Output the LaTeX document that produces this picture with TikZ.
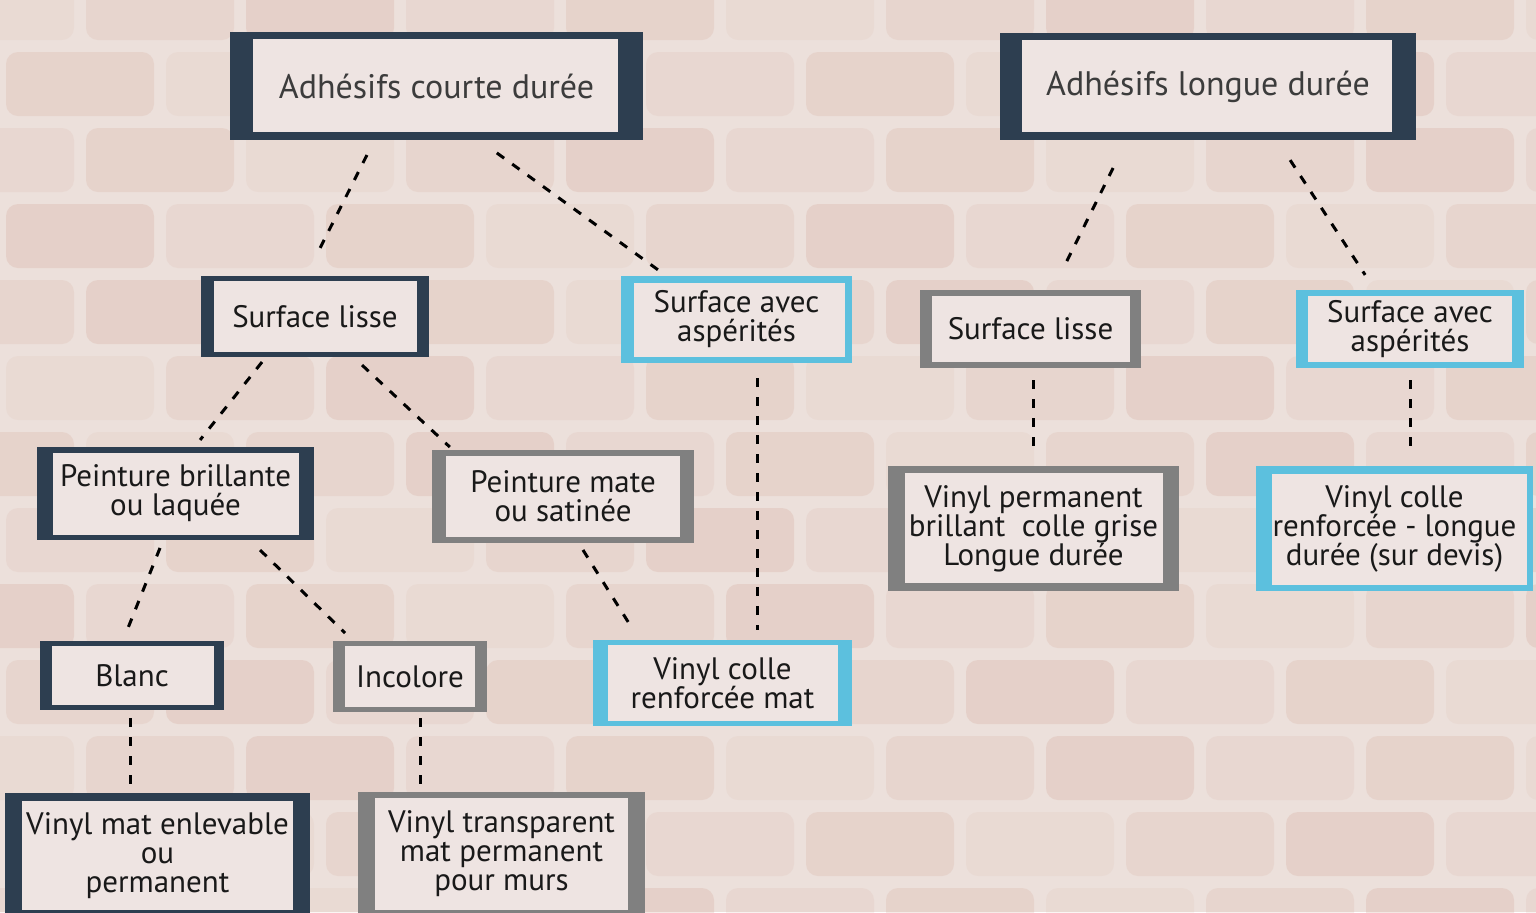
\documentclass[tikz,border=0pt]{standalone}
\usepackage{fontspec}
\setmainfont{PT Sans}
\definecolor{dark}{RGB}{45,62,80}
\definecolor{grayb}{RGB}{128,128,128}
\definecolor{blueb}{RGB}{92,192,222}
\definecolor{innerc}{RGB}{238,228,226}
\definecolor{bgc}{RGB}{236,224,219}
\definecolor{brick}{RGB}{212,166,150}
\definecolor{hdr}{RGB}{60,60,60}
\definecolor{txt}{RGB}{25,25,25}
\newcommand{\bfs}{\fontsize{15.5}{14.5}\selectfont}
\newcommand{\hfs}{\fontsize{17}{16}\selectfont}
\tikzset{
  bx/.style n args={5}{fill=#1, inner sep=0pt, outer sep=0pt, align=center, font=\bfs, text=txt,
    path picture={\fill[innerc] ([xshift=#2,yshift=-#4]path picture bounding box.north west) rectangle ([xshift=-#3,yshift=#5]path picture bounding box.south east);}},
  conn/.style={draw=black, line width=1.5pt, dash pattern=on 4.5pt off 5pt},
}
\begin{document}
\begin{tikzpicture}[x=0.5pt,y=-0.5pt]
\useasboundingbox (0,0) rectangle (1536,912);
\fill[bgc] (0,0) rectangle (1536,912);
% faint brick wall
\foreach \r in {0,...,12}{
  \foreach \c in {0,...,10}{
    \pgfmathsetmacro{\xx}{\c*160+mod(\r,2)*80-80+6}
    \pgfmathsetmacro{\yy}{\r*76-30+6}
    \pgfmathsetmacro{\op}{0.10+0.16*mod(\c*7+\r*3,5)/4}
    \fill[brick, fill opacity=\op, rounded corners=6pt] (\xx,\yy) rectangle ++(148,64);
  }
}
% nodes
\node[bx={dark}{11.5pt}{12.5pt}{3.5pt}{4pt}, minimum width=206.5pt, minimum height=54pt, font=\hfs, text=hdr] (a1) at (436.5,86) {Adhésifs courte durée};
\node[bx={dark}{11pt}{12pt}{3.5pt}{4pt}, minimum width=208pt, minimum height=53.5pt, font=\hfs, text=hdr] (a2) at (1208,86.5) {Adhésifs longue durée};
\node[bx={dark}{6.5pt}{6pt}{2.5pt}{2.5pt}, minimum width=114pt, minimum height=40.5pt] (sl1) at (315,316.5) {Surface lisse};
\node[bx={blueb}{6.5pt}{3.5pt}{3.5pt}{3pt}, minimum width=115.5pt, minimum height=43.5pt] (sa1) at (736.5,319.5) {Surface avec\\aspérités};
\node[bx={grayb}{6pt}{5.5pt}{3pt}{3pt}, minimum width=110.5pt, minimum height=39pt] (sl2) at (1030.5,329) {Surface lisse};
\node[bx={blueb}{6pt}{6pt}{3pt}{3pt}, minimum width=114pt, minimum height=39pt] (sa2) at (1410,329) {Surface avec\\aspérités};
\node[bx={dark}{8pt}{7.5pt}{3pt}{2.5pt}, minimum width=138.5pt, minimum height=46.5pt] (pb) at (175.5,493.5) {Peinture brillante\\ou laquée};
\node[bx={grayb}{7pt}{7pt}{3pt}{3pt}, minimum width=131pt, minimum height=46.5pt] (pm) at (563,496.5) {Peinture mate\\ou satinée};
\node[bx={dark}{6pt}{5pt}{2.5pt}{2.5pt}, minimum width=92pt, minimum height=34.5pt] (bl) at (132,675.5) {Blanc};
\node[bx={grayb}{6pt}{6pt}{2.5pt}{2.5pt}, minimum width=77pt, minimum height=35.5pt] (inc) at (410,676.5) {Incolore};
\node[bx={blueb}{7.5pt}{7pt}{2.5pt}{2.5pt}, minimum width=129.5pt, minimum height=43pt] (vcrm) at (722.5,683) {Vinyl colle\\renforcée mat};
\node[bx={dark}{8.5pt}{8.5pt}{4pt}{4pt}, minimum width=152.5pt, minimum height=62.5pt] (vme) at (157.5,855.5) {Vinyl mat enlevable\\ou\\permanent};
\node[bx={grayb}{8.5pt}{8.5pt}{3pt}{3pt}, minimum width=143.5pt, minimum height=62pt] (vtm) at (501.5,854) {Vinyl transparent\\mat permanent\\pour murs};
\node[bx={grayb}{8.5pt}{8pt}{3.5pt}{4pt}, minimum width=145.5pt, minimum height=62.5pt] (vpb) at (1033.5,528.5) {Vinyl permanent\\brillant\ \ colle grise\\Longue durée};
\node[bx={blueb}{8pt}{3pt}{4pt}{3pt}, minimum width=138.5pt, minimum height=62.5pt] (vcrl) at (1394.5,528.5) {Vinyl colle\\renforcée - longue\\durée (sur devis)};
% connectors
\draw[conn, shorten <=8.4pt, shorten >=13.4pt] ([xshift=-31pt]a1.south) -- ([xshift=-4.5pt]sl1.north);
\draw[conn, shorten <=11pt, shorten >=2pt] ([xshift=21.25pt]a1.south) -- ([xshift=-35pt]sa1.north);
\draw[conn, shorten <=15.6pt, shorten >=14pt] ([xshift=-40.5pt]a2.south) -- ([xshift=11pt]sl2.north);
\draw[conn, shorten <=12pt, shorten >=9pt] ([xshift=34.5pt]a2.south) -- ([xshift=-17.5pt]sa2.north);
\draw[conn, shorten <=3.2pt, shorten >=4.5pt] ([xshift=-24.5pt]sl1.south) -- ([xshift=9.5pt]pb.north);
\draw[conn, shorten <=5.9pt, shorten >=2.2pt] ([xshift=19.2pt]sl1.south) -- ([xshift=-55pt]pm.north);
\draw[conn, shorten <=7.5pt, shorten >=5pt] ([xshift=10.25pt]sa1.south) -- ([xshift=17.25pt]vcrm.north);
\draw[conn, shorten <=6pt, shorten >=8pt] ([xshift=1.25pt]sl2.south) -- ([xshift=-0.25pt]vpb.north);
\draw[conn, shorten <=6pt, shorten >=8pt] (sa2.south) -- ([xshift=7.75pt]vcrl.north);
\draw[conn, shorten <=4.3pt, shorten >=7pt] ([xshift=-6.15pt]pb.south) -- ([xshift=-4.6pt]bl.north);
\draw[conn, shorten <=7.2pt, shorten >=5.7pt] ([xshift=37.15pt]pb.south) -- ([xshift=-28.4pt]inc.north);
\draw[conn, shorten <=4.1pt, shorten >=8.9pt] ([xshift=7.8pt]pm.south) -- ([xshift=-41.5pt]vcrm.north);
\draw[conn, shorten <=4pt, shorten >=4pt] ([xshift=-1pt]bl.south) -- ([xshift=-13.75pt]vme.north);
\draw[conn, shorten <=3pt, shorten >=3.5pt] ([xshift=5pt]inc.south) -- ([xshift=-40.75pt]vtm.north);
\end{tikzpicture}
\end{document}
